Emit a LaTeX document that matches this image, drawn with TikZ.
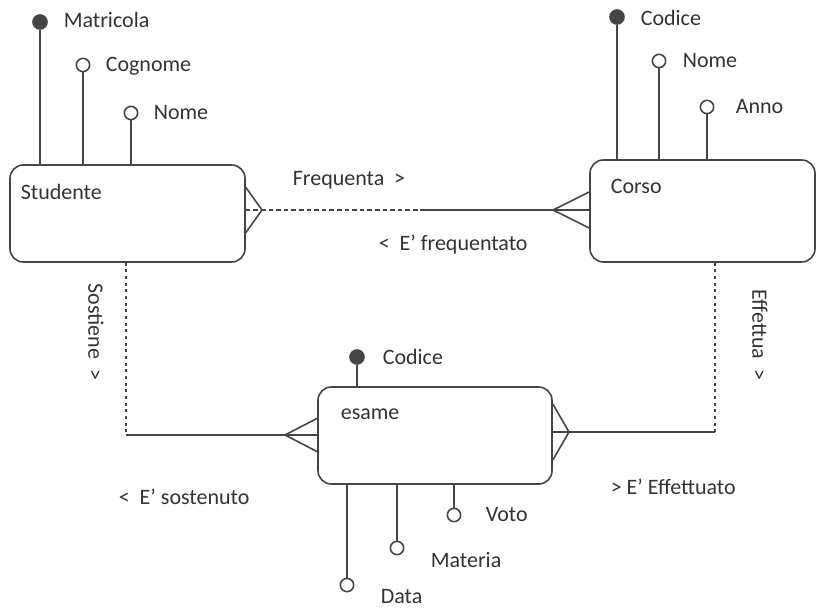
\documentclass[tikz,border=0pt]{standalone}
\usepackage{fontspec}
\setmainfont{Carlito}
\usetikzlibrary{positioning}
\definecolor{lc}{HTML}{454545}
\definecolor{tc}{HTML}{333333}
\begin{document}
\begin{tikzpicture}[x=0.75pt,y=-0.75pt,line width=1.2pt,color=lc,
  entity/.style={draw, rounded corners=10pt, inner sep=0pt},
  key/.style={draw, circle, fill=lc, minimum size=10.5pt, inner sep=0pt},
  attr/.style={draw, circle, fill=white, minimum size=10pt, inner sep=0pt},
  lbl/.style={anchor=west, inner sep=0pt, text=tc, font=\fontsize{16.5}{20}\selectfont},
  weak/.style={dash pattern=on 3.5pt off 2.2pt},
  dotted weak/.style={dash pattern=on 2.2pt off 2.8pt}]
\useasboundingbox (0,0) rectangle (830,609);

% entities
\node[entity, minimum width=176.25pt, minimum height=72.75pt] (stud) at (127.5,213.5) {};
\node[entity, minimum width=168.75pt, minimum height=76.5pt] (corso) at (702.5,211) {};
\node[entity, minimum width=175.5pt, minimum height=72.75pt] (esame) at (435,435.5) {};
\node[lbl] (studl) at (20,192) {Studente};
\node[lbl] (corsol) at (610,186) {Corso};
\node[lbl] (esamel) at (340,414) {esame};

% attributes of Studente
\node[key] (matr) at (40,22) {};
\node[attr] (cogn) at (83,65) {};
\node[attr] (snome) at (131,113) {};
\path[draw] (matr) -- (matr |- stud.north);
\path[draw] (cogn) -- (cogn |- stud.north);
\path[draw] (snome) -- (snome |- stud.north);
\node[lbl] (matrl) at (63,20) {Matricola};
\node[lbl] (cognl) at (105,66) {Cognome};
\node[lbl] (snomel) at (153,113) {Nome};

% attributes of Corso
\node[key] (ccod) at (617,17) {};
\node[attr] (cnome) at (659,61) {};
\node[attr] (canno) at (707,107) {};
\path[draw] (ccod) -- (ccod |- corso.north);
\path[draw] (cnome) -- (cnome |- corso.north);
\path[draw] (canno) -- (canno |- corso.north);
\node[lbl] (ccodl) at (640,18) {Codice};
\node[lbl] (cnomel) at (682,61) {Nome};
\node[lbl] (cannol) at (735,107) {Anno};

% attributes of esame
\node[key] (ecod) at (357,357) {};
\node[attr] (voto) at (454,515) {};
\node[attr] (mat) at (397,548) {};
\node[attr] (data) at (347,585) {};
\path[draw] (ecod) -- (ecod |- esame.north);
\path[draw] (voto) -- (voto |- esame.south);
\path[draw] (mat) -- (mat |- esame.south);
\path[draw] (data) -- (data |- esame.south);
\node[lbl] (ecodl) at (382,357) {Codice};
\node[lbl] (votol) at (485,515) {Voto};
\node[lbl] (matl) at (430,560) {Materia};
\node[lbl] (datal) at (380,597) {Data};

% Frequenta
\coordinate (fs) at (262,210);
\coordinate (fm) at (420,210);
\coordinate (fc) at (553,210);
\path[draw] ([yshift=17pt]fs -| stud.east) -- (fs) -- ([yshift=-17pt]fs -| stud.east);
\path[draw,weak] (fs -| stud.east) -- (fm);
\path[draw] (fm) -- (fc -| corso.west);
\path[draw] ([yshift=13.5pt]fc -| corso.west) -- (fc) -- ([yshift=-13.5pt]fc -| corso.west);
\node[lbl] (freq) at (292,180) {Frequenta~~>};
\node[lbl] (efreq) at (378,245) {<~~E’ frequentato};

% Sostiene
\coordinate (sc) at (126,435);
\coordinate (es) at (285,435);
\path[draw,dotted weak] (sc |- stud.south) -- (sc);
\path[draw] (sc) -- (es) -- (es -| esame.west);
\path[draw] ([yshift=12.5pt]es -| esame.west) -- (es) -- ([yshift=-12.5pt]es -| esame.west);
\node[lbl, anchor=center, rotate=-90] (sost) at (96,332) {Sostiene~~>};
\node[lbl] (esost) at (118,497) {<~~E’ sostenuto};

% Effettua
\coordinate (ec) at (715,432);
\coordinate (ee) at (569,432);
\path[draw,dotted weak] (ec |- corso.south) -- (ec);
\path[draw] (ec) -- (ee) -- (ee -| esame.east);
\path[draw] ([yshift=21pt]ee -| esame.east) -- (ee) -- ([yshift=-21pt]ee -| esame.east);
\node[lbl, anchor=center, rotate=-90] (eff) at (760,335) {Effettua~~>};
\node[lbl] (eeff) at (610,487) {> E’ Effettuato};
\end{tikzpicture}
\end{document}
